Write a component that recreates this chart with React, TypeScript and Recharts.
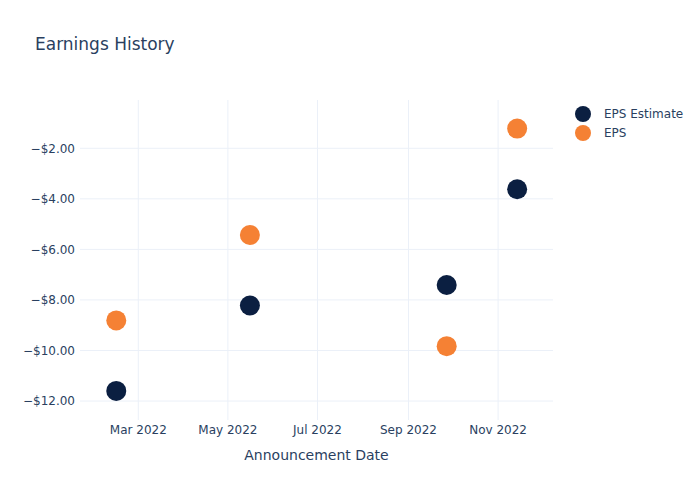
import { ScatterChart, Scatter, XAxis, YAxis, CartesianGrid } from 'recharts';

const announcementDates = ['2022-02-14', '2022-05-16', '2022-09-27', '2022-11-14'];
const epsEstimate = [-11.6, -8.22, -7.41, -3.62];
const epsActual = [-8.81, -5.43, -9.83, -1.22];
const xTickDates = ['2022-03-01', '2022-05-01', '2022-07-01', '2022-09-01', '2022-11-01'];
const yTicks = [-12, -10, -8, -6, -4, -2];

const MONTHS = ['Jan', 'Feb', 'Mar', 'Apr', 'May', 'Jun', 'Jul', 'Aug', 'Sep', 'Oct', 'Nov', 'Dec'];
const DAY = 86400000;

const toTs = (d: string) => Date.parse(d + 'T00:00:00Z');

const estimateData = announcementDates.map((d, i) => ({ date: toTs(d), value: epsEstimate[i] }));
const epsData = announcementDates.map((d, i) => ({ date: toTs(d), value: epsActual[i] }));
const xTicks = xTickDates.map(toTs);

const xDomain = [toTs('2022-01-20') + 0.3 * DAY, toTs('2022-12-08') + 0.4 * DAY];

const NAVY = '#0B1F41';
const ORANGE = '#F58134';
const TEXT = '#2a3f5f';
const FONT = '"DejaVu Sans", verdana, sans-serif';

const fmtMoney = (v: number) => (v < 0 ? '\u2212' : '') + '$' + Math.abs(v).toFixed(2);
const fmtMonth = (t: number) => {
    const d = new Date(t);
    return `${MONTHS[d.getUTCMonth()]} ${d.getUTCFullYear()}`;
};

const dot = (color: string) => (props: any) => (
    <circle cx={props.cx} cy={props.cy} r={10} fill={color} />
);

const legendItems = [
    { name: 'EPS Estimate', color: NAVY },
    { name: 'EPS', color: ORANGE },
];

function LegendBox() {
    return (
        <svg width={120} height={40} style={{ position: 'absolute', left: 575, top: 105 }}>
            {legendItems.map((item, i) => (
                <g key={item.name}>
                    <circle cx={8} cy={9 + i * 19} r={8} fill={item.color} />
                    <text x={29} y={9 + i * 19} dy="0.35em" fontSize={12} fill={TEXT} fontFamily={FONT}>
                        {item.name}
                    </text>
                </g>
            ))}
        </svg>
    );
}

export default function App() {
    return (
        <div style={{ position: 'absolute', left: 0, top: 0, width: 700, height: 500, background: '#fff', fontFamily: FONT }}>
            <div style={{ position: 'absolute', left: 35, top: 34, fontSize: 17, color: TEXT }}>Earnings History</div>
            <ScatterChart width={700} height={500} margin={{ top: 100, right: 147, bottom: 30, left: 0 }}>
                <CartesianGrid stroke="#EBF0F8" strokeWidth={1} syncWithTicks />
                <XAxis
                    type="number"
                    dataKey="date"
                    domain={xDomain}
                    ticks={xTicks}
                    tickFormatter={fmtMonth}
                    axisLine={false}
                    tickLine={false}
                    tickSize={0}
                    tickMargin={5}
                    height={50}
                    tick={{ fontSize: 12, fill: TEXT, fontFamily: FONT }}
                    allowDataOverflow
                />
                <YAxis
                    type="number"
                    dataKey="value"
                    domain={[-12.75, -0.09]}
                    ticks={yTicks}
                    tickFormatter={fmtMoney}
                    axisLine={false}
                    tickLine={false}
                    tickSize={0}
                    tickMargin={5}
                    width={80}
                    tick={{ fontSize: 12, fill: TEXT, fontFamily: FONT }}
                    allowDataOverflow
                />
                <Scatter name="EPS Estimate" data={estimateData} fill={NAVY} shape={dot(NAVY)} isAnimationActive={false} />
                <Scatter name="EPS" data={epsData} fill={ORANGE} shape={dot(ORANGE)} isAnimationActive={false} />
            </ScatterChart>
            <LegendBox />
            <div style={{ position: 'absolute', left: 0, width: 633, top: 447, textAlign: 'center', fontSize: 14, color: TEXT }}>
                Announcement Date
            </div>
        </div>
    );
}
